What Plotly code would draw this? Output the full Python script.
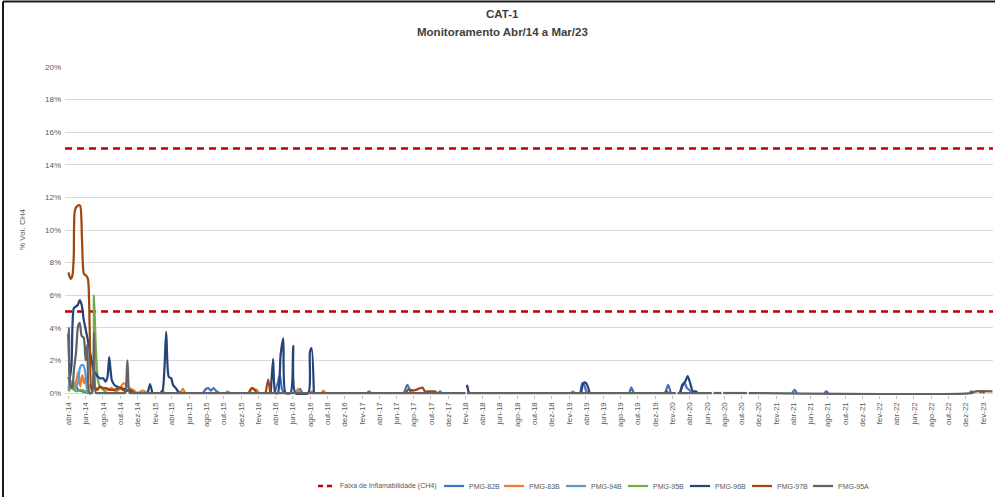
import plotly.graph_objects as go

# ------------------------------------------------------------------ data
SERIES = ["PMG-82B", "PMG-83B", "PMG-94B", "PMG-95B", "PMG-96B", "PMG-97B", "PMG-95A"]
COLORS = ["#4472C4", "#ED7D31", "#5B9BD5", "#70AD47", "#264478", "#9E480E", "#636363"]

FAIXA_NAME = "Faixa de Inflamabilidade (CH4)"
FAIXA_LIMITS = [5, 15]
PERIOD = ["2014-03-20", "2023-03-07"]

TITLE_1 = "CAT-1"
TITLE_2 = "Monitoramento Abr/14 a Mar/23"
Y_TITLE = "% Vol. CH4"
Y_TICKS = [0, 2, 4, 6, 8, 10, 12, 14, 16, 18, 20]
MESES = ["jan", "fev", "mar", "abr", "mai", "jun", "jul", "ago", "set", "out", "nov", "dez"]

d_82b = ["2014-04-01", "2014-04-08", "2014-04-15", "2014-04-22", "2014-04-29", "2014-05-06", "2014-05-20", "2014-06-10", None,
         "2015-07-20", "2015-07-30", "2015-08-08", "2015-08-16", "2015-08-26", "2015-09-06", "2015-09-15", None,
         "2016-03-28", "2016-04-08", "2016-04-16", "2016-04-24", "2016-05-02", None,
         "2016-06-20", "2016-06-26", "2016-07-04", None,
         "2017-02-18", "2017-02-25", "2017-03-04", None,
         "2017-06-28", "2017-07-10", "2017-07-20", "2017-07-26", None,
         "2017-10-28", "2017-11-02", "2017-11-08", None,
         "2019-03-12", "2019-03-19", "2019-03-26", "2019-04-02", "2019-04-10", None,
         "2019-09-01", "2019-09-08", "2019-09-16", None,
         "2020-01-06", "2020-01-16", "2020-01-25", None,
         "2020-02-26", "2020-03-03", "2020-03-09", "2020-03-15", "2020-03-22", "2020-03-30", "2020-04-08", None,
         "2021-03-28", "2021-04-06", "2021-04-14", None,
         "2021-07-20", "2021-07-27", "2021-08-03", None,
         "2022-12-14", "2022-12-21", "2022-12-28"]
v_82b = [1.0, 0.5, 0.3, 0.6, 0.4, 0.2, 0.1, 0.0, None,
         0, 0.25, 0.3, 0.15, 0.3, 0.1, 0, None,
         0, 0.6, 1.1, 0.2, 0, None,
         0, 0.25, 0, None,
         0, 0.1, 0, None,
         0, 0.5, 0.1, 0, None,
         0, 0.1, 0, None,
         0, 0.6, 0.5, 0.1, 0, None,
         0, 0.35, 0, None,
         0, 0.5, 0, None,
         0, 0.3, 0.5, 0.6, 0.3, 0.2, 0, None,
         0, 0.2, 0, None,
         0, 0.1, 0, None,
         0, 0.1, 0]

d_83b = ["2014-04-01", "2014-04-08", "2014-04-15", "2014-04-22", "2014-04-29", "2014-05-06", "2014-05-13", "2014-05-20",
         "2014-05-27", "2014-06-03", "2014-06-10", "2014-06-17", "2014-06-24", "2014-07-01", "2014-07-10", "2014-07-20",
         "2014-08-01", "2014-08-15", "2014-09-01", "2014-09-15", "2014-10-01", "2014-10-12", "2014-10-22", "2014-11-01",
         "2014-11-15", "2014-12-01", "2014-12-20", "2015-01-05", None,
         "2015-02-20", "2015-02-28", "2015-03-06", None,
         "2015-05-02", "2015-05-10", "2015-05-18", None,
         "2015-10-08", "2015-10-15", "2015-10-22", None,
         "2016-01-01", "2016-01-08", "2016-01-16", "2016-01-25", "2016-02-02", None,
         "2016-06-12", "2016-06-19", "2016-06-26", None,
         "2016-08-01", "2016-08-06", "2016-08-12", None,
         "2016-09-10", "2016-09-17", "2016-09-24"]
v_83b = [0.2, 0.5, 0.3, 0.4, 0.8, 1.3, 0.4, 1.1,
         0.6, 1.0, 0.3, 0.5, 0.1, 0.3, 0.2, 0.4,
         0.3, 0.2, 0.3, 0.1, 0.3, 0.6, 0.5, 0.3,
         0.2, 0.0, 0.15, 0.0, None,
         0, 0.15, 0, None,
         0, 0.25, 0, None,
         0, 0.1, 0, None,
         0, 0.3, 0.2, 0.2, 0, None,
         0, 0.25, 0, None,
         0, 0.1, 0, None,
         0, 0.15, 0]

d_94b = ["2014-04-01", "2014-04-08", "2014-04-15", "2014-04-22", "2014-04-29", "2014-05-06", "2014-05-11", "2014-05-17",
         "2014-05-24", "2014-05-31", "2014-06-05", "2014-06-12", "2014-06-20", None,
         "2019-02-08", "2019-02-14", "2019-02-20"]
v_94b = [0.3, 0.8, 0.3, 0.2, 0.4, 0.7, 1.5, 1.7,
         1.7, 1.2, 0.3, 0.0, 0.0, None,
         0, 0.1, 0]

d_95b = ["2014-04-01", "2014-04-08", "2014-04-14", "2014-04-22", "2014-05-01", "2014-05-15", "2014-06-01", "2014-06-15",
         "2014-06-24", "2014-06-30", "2014-07-07", "2014-07-14", "2014-07-21", "2014-08-01", "2014-08-15"]
v_95b = [0.1, 0.3, 0.6, 0.2, 0.1, 0.2, 0.1, 0.0,
         0.1, 6.0, 2.6, 0.8, 0.4, 0.2, 0.0]

d_96b = ["2014-04-01", "2014-04-06", "2014-04-12", "2014-04-20", "2014-04-27", "2014-05-04", "2014-05-11", "2014-05-18",
         "2014-05-25", "2014-06-01", "2014-06-08", "2014-06-15", "2014-06-22", "2014-06-29", "2014-07-06", "2014-07-14",
         "2014-07-22", "2014-08-02", "2014-08-10", "2014-08-17", "2014-08-23", "2014-09-01", "2014-09-10", "2014-09-18",
         "2014-10-05", "2014-10-23", "2014-11-14", None,
         "2015-01-06", "2015-01-14", "2015-01-22", None,
         "2015-02-20", "2015-02-28", "2015-03-12", "2015-03-21", "2015-03-30", "2015-04-05", "2015-04-15", "2015-04-25",
         "2015-05-05", None,
         "2016-03-15", "2016-03-23", "2016-03-31", "2016-04-09", "2016-04-19", "2016-04-28", "2016-05-06", "2016-05-24",
         "2016-06-02", "2016-06-10", "2016-07-25", "2016-07-31", "2016-08-06", "2016-08-14", None,
         "2018-02-05", "2018-02-12", None,
         "2019-03-15", "2019-03-24", "2019-04-02", "2019-04-14", None,
         "2020-02-28", "2020-03-06", "2020-03-16", "2020-03-25", "2020-04-05", "2020-04-12", "2020-04-22", "2020-04-29"]
v_96b = [3.6, 0.9, 1.8, 5.2, 5.3, 5.4, 5.7, 5.4,
         4.5, 3.9, 3.3, 2.6, 2.0, 1.4, 1.2, 1.0,
         0.9, 0.9, 0.7, 1.0, 2.2, 0.8, 0.5, 0.4,
         0.3, 0.2, 0.0, None,
         0, 0.55, 0, None,
         0, 0.2, 3.76, 1.0, 0.9, 0.5, 0.3, 0.05,
         0, None,
         0, 2.1, 0, 0, 2.4, 3.35, 0, 0,
         2.9, 0, 0, 2.5, 2.75, 0, None,
         0.5, 0, None,
         0, 0.63, 0.6, 0, None,
         0, 0.5, 0.7, 1.04, 0.45, 0.1, 0.1, 0]

d_97b = ["2014-04-01", "2014-04-09", "2014-04-15", "2014-04-20", "2014-04-24", "2014-05-04", "2014-05-12", "2014-05-19",
         "2014-05-26", "2014-06-03", "2014-06-09", "2014-06-15", "2014-06-21", "2014-06-28", "2014-07-06", "2014-07-13",
         "2014-07-21", "2014-08-01", "2014-08-12", "2014-08-25", "2014-09-10", "2014-09-30", "2014-10-20", "2014-11-05",
         "2014-11-20", None,
         "2015-12-28", "2016-01-08", "2016-01-16", "2016-01-24", None,
         "2016-02-26", "2016-03-06", "2016-03-13", None,
         "2017-07-04", "2017-07-12", "2017-07-22", "2017-08-01", "2017-08-10", "2017-09-01", "2017-09-10", "2017-09-25",
         "2017-10-15", "2017-10-22", None,
         "2020-01-04", "2020-01-10", "2020-01-16", None,
         "2023-01-20", "2023-01-26", "2023-02-05"]
v_97b = [7.4, 7.0, 7.2, 8.4, 11.2, 11.5, 11.5, 9.4,
         7.3, 7.2, 7.0, 4.0, 0.2, 0.5, 0.3, 0.2,
         0.4, 0.3, 0.3, 0.2, 0.2, 0.3, 0.1, 0.2,
         0.0, None,
         0, 0.3, 0.25, 0, None,
         0, 0.84, 0, None,
         0, 0.2, 0.2, 0.15, 0.2, 0.33, 0.1, 0.1,
         0.1, 0, None,
         0, 0.1, 0, None,
         0, 0.1, 0]

d_95a = ["2014-04-01", "2014-04-03", "2014-04-07", "2014-04-14", "2014-04-21", "2014-04-28", "2014-05-05", "2014-05-11",
         "2014-05-18", "2014-05-25", "2014-06-01", "2014-06-07", "2014-06-14", "2014-06-23", "2014-06-30", "2014-07-07",
         "2014-07-14", "2014-10-11", "2014-10-18", "2014-10-26", "2014-11-03", "2014-11-10", "2018-01-31", None,
         "2018-02-05", "2020-02-12", None,
         "2020-02-18", "2020-06-18", None,
         "2020-06-24", "2020-07-22", None,
         "2020-07-28", "2020-10-20", None,
         "2020-10-26", "2022-12-20", "2023-01-05", "2023-03-05"]
v_95a = [3.4, 4.0, 0.5, 0.3, 1.5, 2.5, 4.1, 4.3,
         3.5, 3.4, 2.0, 3.0, 0.0, 0.0, 3.7, 0.0,
         0.0, 0.0, 0.0, 2.0, 0.0, 0.0, 0.0, None,
         0, 0, None,
         0, 0, None,
         0, 0, None,
         0, 0, None,
         0, 0, 0.1, 0.1]

DATES = [d_82b, d_83b, d_94b, d_95b, d_96b, d_97b, d_95a]
VALUES = [v_82b, v_83b, v_94b, v_95b, v_96b, v_97b, v_95a]

# x tick labels (every two months, abr-14 ... fev-23)
tick_vals, tick_text = [], []
yy, mm = 2014, 4
while (yy, mm) <= (2023, 2):
    tick_vals.append(f"{yy}-{mm:02d}-01")
    tick_text.append(f"{MESES[mm - 1]}-{yy % 100:02d}")
    mm += 2
    if mm > 12:
        mm -= 12
        yy += 1

# ------------------------------------------------------------------ layout helpers
W, H = 995, 497
ML, MR, MT, MB = 65, 2, 67, 102
PW = W - ML - MR
PH = H - MT - MB
PB = H - MB
FONT = "Liberation Sans, Arial, sans-serif"
TXT = "#595959"


def px(x):
    return (x - ML) / PW


def py(y):
    return (PB - y) / PH


fig = go.Figure()

# flammability range
fx, fy = [], []
for lim in FAIXA_LIMITS:
    fx += [PERIOD[0], PERIOD[1], None]
    fy += [lim, lim, None]
fig.add_trace(go.Scatter(x=fx, y=fy, mode="lines", name=FAIXA_NAME, showlegend=False,
                         line=dict(color="#C00000", width=2.5, dash="7px,5px"), hoverinfo="skip"))

for name, col, d, v in zip(SERIES, COLORS, DATES, VALUES):
    fig.add_trace(go.Scatter(x=d, y=v, mode="lines", name=name, showlegend=False,
                             line=dict(color=col, width=2.25, shape="spline", smoothing=0.7),
                             connectgaps=False))

shapes = []
annotations = []

# frame (top and left edges)
shapes.append(dict(type="line", xref="paper", yref="paper", x0=px(3), x1=px(995), y0=py(1.5), y1=py(1.5),
                   line=dict(color="#1a1a1a", width=2)))
shapes.append(dict(type="line", xref="paper", yref="paper", x0=px(3), x1=px(3), y0=py(1.5), y1=py(497),
                   line=dict(color="#1a1a1a", width=2)))

# titles
annotations.append(dict(text=f"<b>{TITLE_1}</b>", xref="paper", yref="paper", x=px(502), y=py(14),
                        showarrow=False, xanchor="center", yanchor="middle",
                        font=dict(family=FONT, size=11.5, color="#404040")))
annotations.append(dict(text=f"<b>{TITLE_2}</b>", xref="paper", yref="paper", x=px(502), y=py(32),
                        showarrow=False, xanchor="center", yanchor="middle",
                        font=dict(family=FONT, size=11.5, color="#404040")))
annotations.append(dict(text=Y_TITLE, xref="paper", yref="paper", x=px(22), y=py(230), textangle=-90,
                        showarrow=False, xanchor="center", yanchor="middle",
                        font=dict(family=FONT, size=8, color=TXT)))

# legend (drawn manually)
LEG_Y = 486
shapes.append(dict(type="line", xref="paper", yref="paper", x0=px(318), x1=px(332), y0=py(LEG_Y), y1=py(LEG_Y),
                   line=dict(color="#C00000", width=2.5, dash="5px,4px")))
annotations.append(dict(text=FAIXA_NAME, xref="paper", yref="paper", x=px(338), y=py(LEG_Y),
                        showarrow=False, xanchor="left", yanchor="middle",
                        font=dict(family=FONT, size=7, color=TXT)))
LEG_X = [444, 504, 566, 628, 690, 752, 813]
for name, col, lx in zip(SERIES, COLORS, LEG_X):
    shapes.append(dict(type="line", xref="paper", yref="paper", x0=px(lx), x1=px(lx + 20), y0=py(LEG_Y),
                       y1=py(LEG_Y), line=dict(color=col, width=2.25)))
    annotations.append(dict(text=name, xref="paper", yref="paper", x=px(lx + 23), y=py(LEG_Y),
                            showarrow=False, xanchor="left", yanchor="middle",
                            font=dict(family=FONT, size=7, color=TXT)))

fig.update_layout(
    width=W, height=H, autosize=False,
    margin=dict(l=ML, r=MR, t=MT, b=MB, pad=0),
    paper_bgcolor="white", plot_bgcolor="white",
    showlegend=False,
    shapes=shapes, annotations=annotations,
    font=dict(family=FONT, size=8, color=TXT),
    xaxis=dict(type="date", range=PERIOD, tickmode="array", tickvals=tick_vals, ticktext=tick_text,
               tickangle=-90, tickfont=dict(family=FONT, size=8, color=TXT),
               showgrid=False, zeroline=False, showline=False,
               ticks="outside", ticklen=3, tickcolor="#BFBFBF", tickwidth=1),
    yaxis=dict(range=[-0.12, 20], tickmode="array", tickvals=Y_TICKS,
               ticktext=[f"{t}%" for t in Y_TICKS], tickfont=dict(family=FONT, size=8, color=TXT),
               showgrid=True, gridcolor="#D9D9D9", gridwidth=1, zeroline=False, showline=False,
               ticks="", ticklabelstandoff=3),
)

fig.write_html(
    "out.html",
    config={"displayModeBar": False},
    post_script="document.body.style.margin='0';document.body.style.overflow='hidden';",
)
